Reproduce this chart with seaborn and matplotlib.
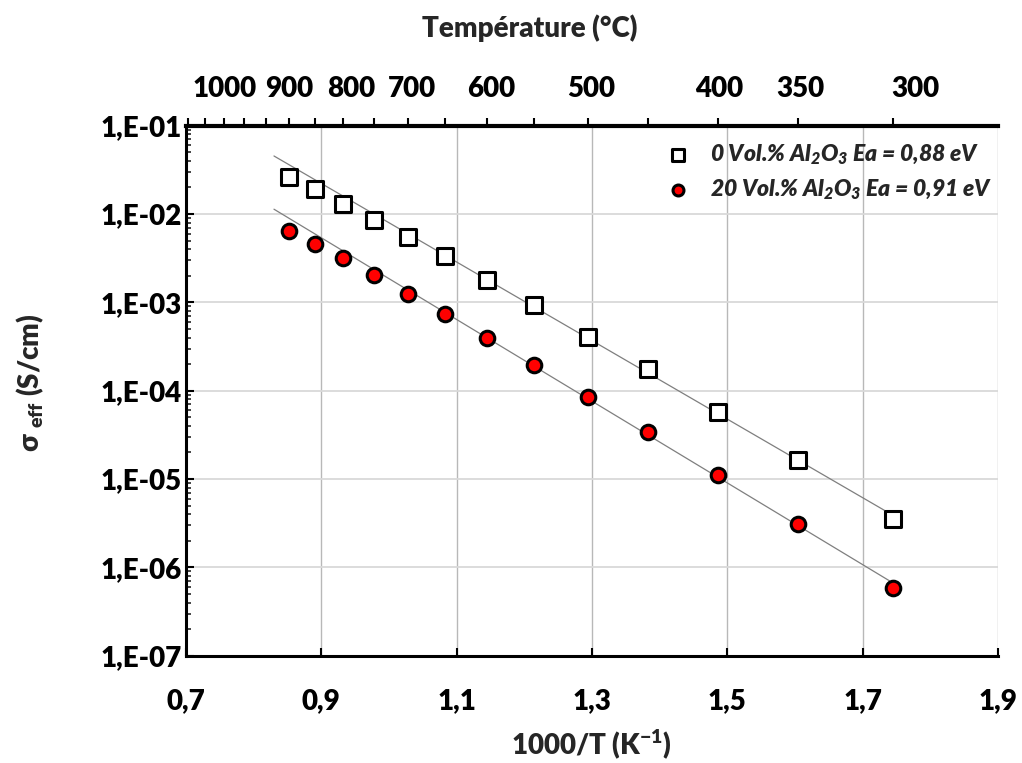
import numpy as np
import matplotlib
matplotlib.use("Agg")
import matplotlib.pyplot as plt
from matplotlib.ticker import FixedLocator, FuncFormatter, LogLocator, NullFormatter
from matplotlib.transforms import offset_copy
import seaborn as sns
import pandas as pd

temperatures_c = [900, 850, 800, 750, 700, 650, 600, 550, 500, 450, 400, 350, 300]
sigma_0vol = [2.60e-2, 1.90e-2, 1.30e-2, 8.55e-3, 5.45e-3, 3.34e-3, 1.79e-3,
              9.3e-4, 4.07e-4, 1.74e-4, 5.77e-5, 1.64e-5, 3.52e-6]
sigma_20vol = [6.42e-3, 4.57e-3, 3.15e-3, 2.04e-3, 1.26e-3, 7.46e-4, 3.91e-4,
               1.96e-4, 8.53e-5, 3.44e-5, 1.11e-5, 3.08e-6, 5.86e-7]
label_0vol = "0 Vol.% Al$_2$O$_3$ Ea = 0,88 eV"
label_20vol = "20 Vol.% Al$_2$O$_3$ Ea = 0,91 eV"

top_labels = [1000, 900, 800, 700, 600, 500, 400, 350, 300]
top_minor = [1150, 1100, 1050, 950, 850, 750, 650, 550, 450]
x_ticks = [0.7, 0.9, 1.1, 1.3, 1.5, 1.7, 1.9]

sns.set_theme(style="white")
plt.rcParams["font.family"] = ["Lato", "DejaVu Sans"]
plt.rcParams["font.weight"] = "bold"
plt.rcParams["mathtext.fontset"] = "custom"
plt.rcParams["mathtext.default"] = "regular"
POIDS = "heavy"


def inv_t(t_c):
    return 1000.0 / (np.asarray(t_c, dtype=float) + 273.15)


df = pd.DataFrame({
    "invT": np.concatenate([inv_t(temperatures_c), inv_t(temperatures_c)]),
    "sigma": sigma_0vol + sigma_20vol,
    "serie": [label_0vol] * len(sigma_0vol) + [label_20vol] * len(sigma_20vol),
})

fig = plt.figure(figsize=(10.22, 7.63), dpi=100)
ax = fig.add_axes([0.182, 0.1406, 0.7945, 0.6946])
ax.set_yscale("log")
ax.set_xlim(0.7, 1.9)
ax.set_ylim(1e-7, 1e-1)

# droites d'Arrhenius : regression sur le domaine lineaire (T <= 700 °C)
xfit = np.array([0.83, 1.75])
lin = np.asarray(temperatures_c) <= 700
for sig in (sigma_0vol, sigma_20vol):
    p = np.polyfit(inv_t(temperatures_c)[lin], np.log10(sig)[lin], 1)
    ax.plot(xfit, 10 ** np.polyval(p, xfit), color="#7f7f7f", lw=0.9, zorder=2)

sns.scatterplot(data=df[df.serie == label_0vol], x="invT", y="sigma", marker="s",
                s=135, color="white", edgecolor="black", linewidth=2.2,
                label=label_0vol, ax=ax, zorder=3)
sns.scatterplot(data=df[df.serie == label_20vol], x="invT", y="sigma", marker="o",
                s=110, color="#ff0000", edgecolor="black", linewidth=2.2,
                label=label_20vol, ax=ax, zorder=3)

# grille
ax.xaxis.set_major_locator(FixedLocator(x_ticks))
ax.yaxis.set_major_locator(LogLocator(base=10, numticks=20))
ax.yaxis.set_minor_locator(LogLocator(base=10, subs=np.arange(2, 10), numticks=20))
ax.yaxis.set_minor_formatter(NullFormatter())
ax.grid(False)
ax.grid(True, axis="x", which="major", color="#b8b8b8", lw=1.0)
ax.grid(True, axis="y", which="major", color="#d9d9d9", lw=1.3)
ax.set_axisbelow(True)

ax.xaxis.set_major_formatter(FuncFormatter(lambda v, p: f"{v:.1f}".replace(".", ",")))
ax.yaxis.set_major_formatter(FuncFormatter(lambda v, p: f"1,E{int(round(np.log10(v))):+03d}"))
ax.tick_params(axis="x", which="major", direction="in", length=6, width=1.5,
               bottom=True, pad=23, labelsize=20, colors="black")
ax.tick_params(axis="y", which="major", direction="in", length=6, width=1.5,
               left=True, pad=3, labelsize=20, colors="black")
ax.tick_params(axis="y", which="minor", direction="in", length=3.5, width=1.2, left=True)
for lab in ax.get_xticklabels() + ax.get_yticklabels():
    lab.set_fontweight(POIDS)

for side in ("left", "bottom"):
    ax.spines[side].set_color("black")
    ax.spines[side].set_linewidth(2.2)
ax.spines["right"].set_visible(False)
ax.spines["top"].set_visible(False)
ax.set_xlabel("")
ax.set_ylabel("")

# axe du haut en temperature
ax2 = ax.twiny()
ax2.set_xlim(ax.get_xlim())
ax2.xaxis.set_major_locator(FixedLocator(inv_t(top_labels)))
ax2.xaxis.set_major_formatter(FuncFormatter(lambda v, p: str(top_labels[p]) if p is not None else ""))
ax2.xaxis.set_minor_locator(FixedLocator(inv_t(top_minor)))
ax2.tick_params(axis="x", which="both", direction="out", length=6, width=1.5,
                top=True, bottom=False, colors="black")
ax2.tick_params(axis="x", which="major", pad=11, labelsize=20)
ax2.grid(False)
for side in ("left", "bottom", "right"):
    ax2.spines[side].set_visible(False)
ax2.spines["top"].set_color("black")
ax2.spines["top"].set_linewidth(3)

# les etiquettes du haut sont legerement decalees dans l'original
decalages = {1000: -19, 800: 8, 700: 4, 600: 4, 500: 4, 400: 2, 350: 2, 300: 22}
fig.canvas.draw()
for tick, t in zip(ax2.xaxis.get_major_ticks(), top_labels):
    tick.label2.set_fontweight(POIDS)
    dx = decalages.get(t, 0)
    if dx:
        tick.label2.set_transform(offset_copy(tick.label2.get_transform(), fig=fig,
                                              x=dx, y=0, units="dots"))

leg = ax.legend(loc="upper right", bbox_to_anchor=(1.005, 0.985), frameon=False,
                markerscale=0.75, handletextpad=0.4, labelspacing=0.45,
                borderaxespad=0.2, borderpad=0.2,
                prop={"size": 16.5, "weight": POIDS, "style": "italic"})

fig.text(530 / 1022, 1 - 28 / 763, "Température (°C)", ha="center", va="center",
         fontsize=20, fontweight=POIDS)
fig.text(591 / 1022, 1 - 744 / 763, "1000/T (K$^{-1}$)", ha="center", va="center",
         fontsize=20, fontweight=POIDS)
fig.text(30 / 1022, 1 - 383 / 763, "σ $_{eff}$ (S/cm)", ha="center", va="center",
         rotation=90, fontsize=20, fontweight=POIDS)

fig.savefig("out.png", dpi=100, facecolor="white")
